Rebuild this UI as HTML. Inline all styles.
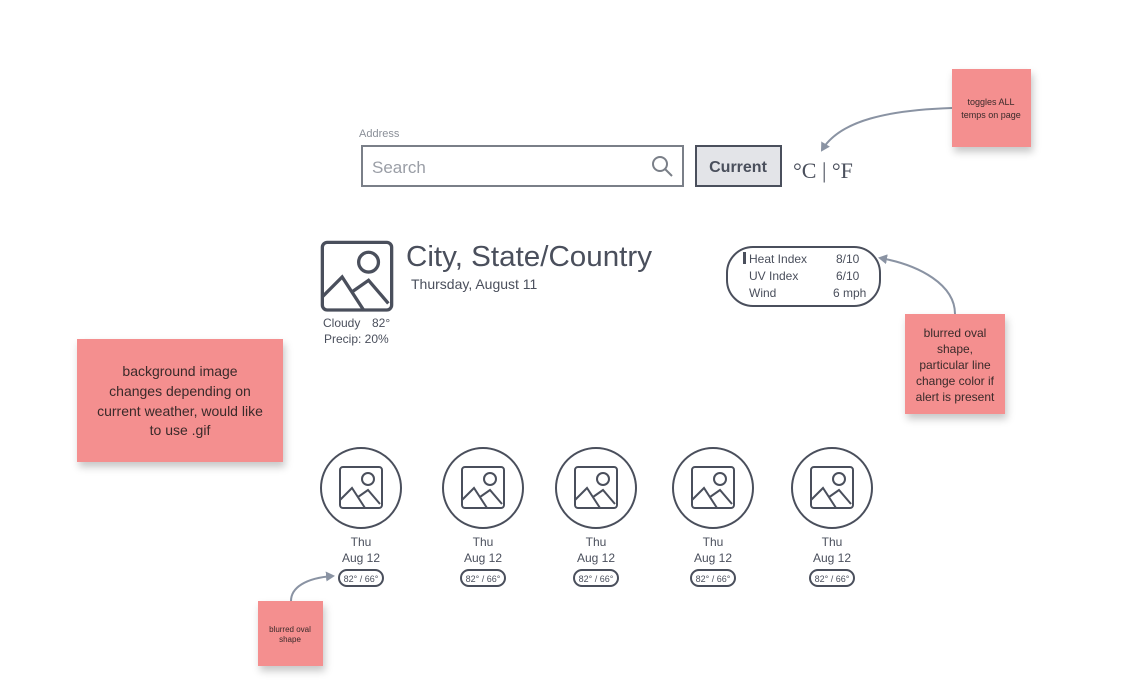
<!DOCTYPE html>
<html><head><meta charset="utf-8"><style>
html,body{margin:0;padding:0;background:#fff;width:1132px;height:695px;overflow:hidden}
svg{display:block}
text{font-family:"Liberation Sans",sans-serif}
</style></head><body>
<svg width="1132" height="695" viewBox="0 0 1132 695" xmlns="http://www.w3.org/2000/svg">
<defs>
<filter id="sh" x="-20%" y="-20%" width="150%" height="150%"><feDropShadow dx="2" dy="5" stdDeviation="4" flood-color="#000" flood-opacity="0.22"/></filter>
<marker id="ah" markerWidth="10" markerHeight="10" refX="7" refY="5" orient="auto" markerUnits="userSpaceOnUse"><path d="M0,0 L9,5 L0,10 Z" fill="#8a93a3"/></marker>
<g id="pic">
<rect x="-21" y="-21" width="42" height="41" rx="3" fill="none" stroke="#4a4f5c" stroke-width="2"/>
<circle cx="7" cy="-9" r="6" fill="none" stroke="#4a4f5c" stroke-width="2"/>
<path d="M-21,12 L-9,0 L4,20 M-3,9 L7,2 L19,16" fill="none" stroke="#4a4f5c" stroke-width="2"/>
</g>
<g id="fc">
<circle cx="0" cy="0" r="40" fill="#fff" stroke="#4a4f5c" stroke-width="2"/>
<use href="#pic"/>
<text x="0" y="58" font-size="12" fill="#4a4f5c" text-anchor="middle">Thu</text>
<text x="0" y="74" font-size="12" fill="#4a4f5c" text-anchor="middle">Aug 12</text>
<rect x="-22" y="82" width="44" height="16" rx="8" fill="#fff" stroke="#4a4f5c" stroke-width="2"/>
<text x="0" y="94" font-size="9" fill="#4a4f5c" text-anchor="middle">82° / 66°</text>
</g>
</defs>

<text x="359" y="137" font-size="11" fill="#8a8f98">Address</text>
<rect x="362" y="146" width="321" height="40" fill="#fff" stroke="#7a7f88" stroke-width="2"/>
<text x="372" y="173" font-size="17" fill="#9a9ea6">Search</text>
<circle cx="660" cy="164" r="7" fill="none" stroke="#7a7f88" stroke-width="2"/>
<line x1="665" y1="169" x2="672" y2="176" stroke="#7a7f88" stroke-width="2"/>
<rect x="696" y="146" width="85" height="40" fill="#e3e4e8" stroke="#4a4f5c" stroke-width="2"/>
<text x="738" y="172" font-size="16" font-weight="bold" fill="#4a4f5c" text-anchor="middle">Current</text>
<text x="793" y="178" font-size="22" fill="#4a4f5c" style="font-family:'Liberation Serif',serif">°C | °F</text>

<g transform="translate(357,277) scale(1.65)"><use href="#pic"/></g>
<text x="406" y="266" font-size="29" fill="#4a4f5c" textLength="246" lengthAdjust="spacingAndGlyphs">City, State/Country</text>
<text x="411" y="289" font-size="14" fill="#4a4f5c">Thursday, August 11</text>
<text font-size="12" fill="#4a4f5c"><tspan x="323" y="327">Cloudy</tspan><tspan x="372" y="327">82°</tspan></text>
<text x="324" y="343" font-size="12" fill="#4a4f5c">Precip: 20%</text>

<rect x="727" y="247" width="153" height="59" rx="26" fill="#fff" stroke="#4a4f5c" stroke-width="2"/>
<rect x="743" y="252" width="3" height="12" fill="#4a4f5c"/>
<text font-size="12" fill="#4a4f5c">
<tspan x="749" y="263">Heat Index</tspan><tspan x="836" y="263">8/10</tspan>
<tspan x="749" y="280">UV Index</tspan><tspan x="836" y="280">6/10</tspan>
<tspan x="749" y="297">Wind</tspan><tspan x="833" y="297">6 mph</tspan>
</text>

<use href="#fc" transform="translate(361,488)"/>
<use href="#fc" transform="translate(483,488)"/>
<use href="#fc" transform="translate(596,488)"/>
<use href="#fc" transform="translate(713,488)"/>
<use href="#fc" transform="translate(832,488)"/>

<path d="M952,108 C890,110 840,120 822,150" fill="none" stroke="#8a93a3" stroke-width="2" marker-end="url(#ah)"/>
<path d="M955,314 C955,285 920,265 880,258" fill="none" stroke="#8a93a3" stroke-width="2" marker-end="url(#ah)"/>
<path d="M291,601 C291,588 305,578 333,576" fill="none" stroke="#8a93a3" stroke-width="2" marker-end="url(#ah)"/>

<rect x="952" y="69" width="79" height="78" fill="#f48f8f" filter="url(#sh)"/>
<text font-size="9" fill="#3a2a2a" text-anchor="middle"><tspan x="991" y="105">toggles ALL</tspan><tspan x="991" y="118">temps on page</tspan></text>

<rect x="77" y="339" width="206" height="123" fill="#f48f8f" filter="url(#sh)"/>
<text font-size="14" fill="#3a2a2a" text-anchor="middle"><tspan x="180" y="376">background image</tspan><tspan x="180" y="396">changes depending on</tspan><tspan x="180" y="416">current weather, would like</tspan><tspan x="180" y="435">to use .gif</tspan></text>

<rect x="905" y="314" width="100" height="100" fill="#f48f8f" filter="url(#sh)"/>
<text font-size="12" fill="#3a2a2a" text-anchor="middle"><tspan x="955" y="337">blurred oval</tspan><tspan x="955" y="353">shape,</tspan><tspan x="955" y="369">particular line</tspan><tspan x="955" y="385">change color if</tspan><tspan x="955" y="401">alert is present</tspan></text>

<rect x="258" y="601" width="65" height="65" fill="#f48f8f" filter="url(#sh)"/>
<text font-size="8" fill="#3a2a2a" text-anchor="middle"><tspan x="290" y="632">blurred oval</tspan><tspan x="290" y="642">shape</tspan></text>
</svg>
</body></html>
